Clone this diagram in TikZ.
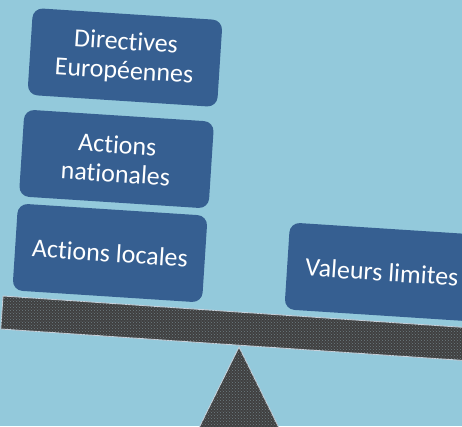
\documentclass[tikz,border=0pt]{standalone}
\usepackage{fontspec}
\setmainfont{Carlito}[Ligatures=NoCommon]
\usetikzlibrary{patterns}
\definecolor{cSky}{HTML}{93C9DB}
\definecolor{cBox}{HTML}{365F91}
\definecolor{cBeam}{HTML}{404040}
\definecolor{cSpeck}{HTML}{6E7C82}
\definecolor{cEdge}{HTML}{C8D2DC}

\begin{document}
\begin{tikzpicture}[
  x=1pt, y=1pt,
  weightbox/.style={
    fill=cBox, text=white, rounded corners=10pt, align=center,
    minimum width=190pt, minimum height=87pt, inner sep=0pt,
    rotate=-3.7, font=\fontsize{26}{29}\selectfont,
  },
  beamfill/.style={fill=cBeam, draw=cEdge, line width=0.9pt},
  speckle/.style={pattern=crosshatch dots, pattern color=cSpeck},
]

% Sky backdrop, also fixes the page size.
\fill[cSky] (0,0) rectangle (462,-426);
\clip (0,0) rectangle (462,-426);

% --- fulcrum (runs off the bottom edge) ---
\filldraw[beamfill] (239,-347) -- (285,-440) -- (193,-440) -- cycle;
\fill[speckle] (239,-347) -- (285,-440) -- (193,-440) -- cycle;

% --- tilted beam ---
\filldraw[beamfill] (3,-296) -- (477,-328.3) -- (474.8,-361.2) -- (0.8,-329) -- cycle;
\fill[speckle] (3,-296) -- (477,-328.3) -- (474.8,-361.2) -- (0.8,-329) -- cycle;

% --- stack on the left pan ---
\node[weightbox] (directives) at (125,-57.5) {Directives\\Européennes};
\node[weightbox] (nationales) at (116.5,-159) {Actions\\nationales};
\node[weightbox] (locales) at (110,-253) {Actions locales};

% --- right pan ---
\node[weightbox] (limites) at (382,-272) {Valeurs limites};

\end{tikzpicture}
\end{document}
